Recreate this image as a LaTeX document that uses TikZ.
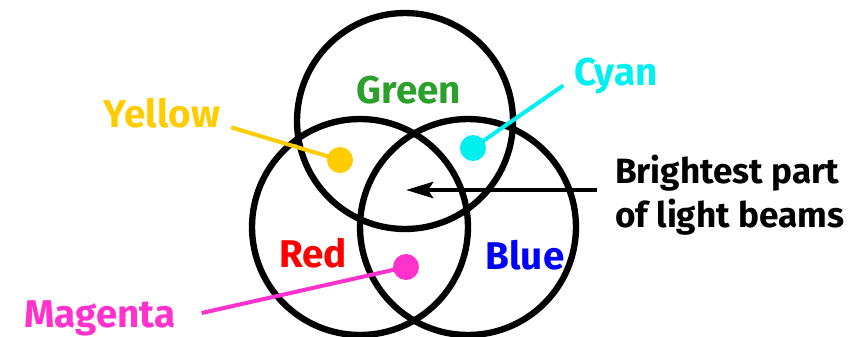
\documentclass[tikz,border=0pt]{standalone}
\usepackage{fontspec}
\setmainfont{Fira Sans}
\usetikzlibrary{arrows.meta}
\definecolor{ygold}{HTML}{FFCC00}
\definecolor{lgreen}{HTML}{2CA02C}
\definecolor{lcyan}{HTML}{00F0F0}
\definecolor{mpink}{HTML}{FF33CC}
\begin{document}
\begin{tikzpicture}[x=0.02cm,y=-0.02cm,
  ring/.style={draw,circle,line width=3.6pt,minimum size=4.32cm,inner sep=0pt},
  spot/.style={circle,fill=#1,minimum size=0.52cm,inner sep=0pt},
  lbl/.style={font=\fontsize{22}{26}\selectfont\bfseries,text=#1},
  note/.style={font=\fontsize{20}{25}\selectfont\bfseries,align=left},
  lead/.style={line width=2.3pt,draw=#1}]
\useasboundingbox (0,0) rectangle (859,336);

\node[ring] (green) at (405,121) {};
\node[ring] (red) at (360,227) {};
\node[ring] (blue) at (468,227) {};

\node[lbl=lgreen] (glbl) at (409,90) {Green};
\node[lbl=red] (rlbl) at (313,253) {Red};
\node[lbl=blue] (bluelbl) at (525,255) {Blue};
\node[lbl=ygold] (ylbl) at (162,113) {Yellow};
\node[lbl=lcyan] (clbl) at (616,76) {Cyan};
\node[lbl=mpink] (mlbl) at (100,318) {Magenta};
\node[note,anchor=west] (beam) at (609,195) {Brightest part\\of light beams};

\node[spot=ygold] (ydot) at (340,160) {};
\node[spot=lcyan] (cdot) at (473,148) {};
\node[spot=mpink] (mdot) at (406,267) {};
\coordinate (core) at (406,190);

\draw[lead=ygold] ([xshift=0.1cm]ylbl.base east) -- (ydot.center);
\draw[lead=lcyan] ([xshift=-0.1cm]clbl.base west) -- (cdot.center);
\draw[lead=mpink] ([xshift=0.4cm,yshift=0.1cm]mlbl.east) -- (mdot.center);
\draw[line width=2.8pt,-{Stealth[length=0.54cm,width=0.32cm,inset=0.1cm]}] ([xshift=-0.24cm]core -| beam.west) -- (core);
\end{tikzpicture}
\end{document}
